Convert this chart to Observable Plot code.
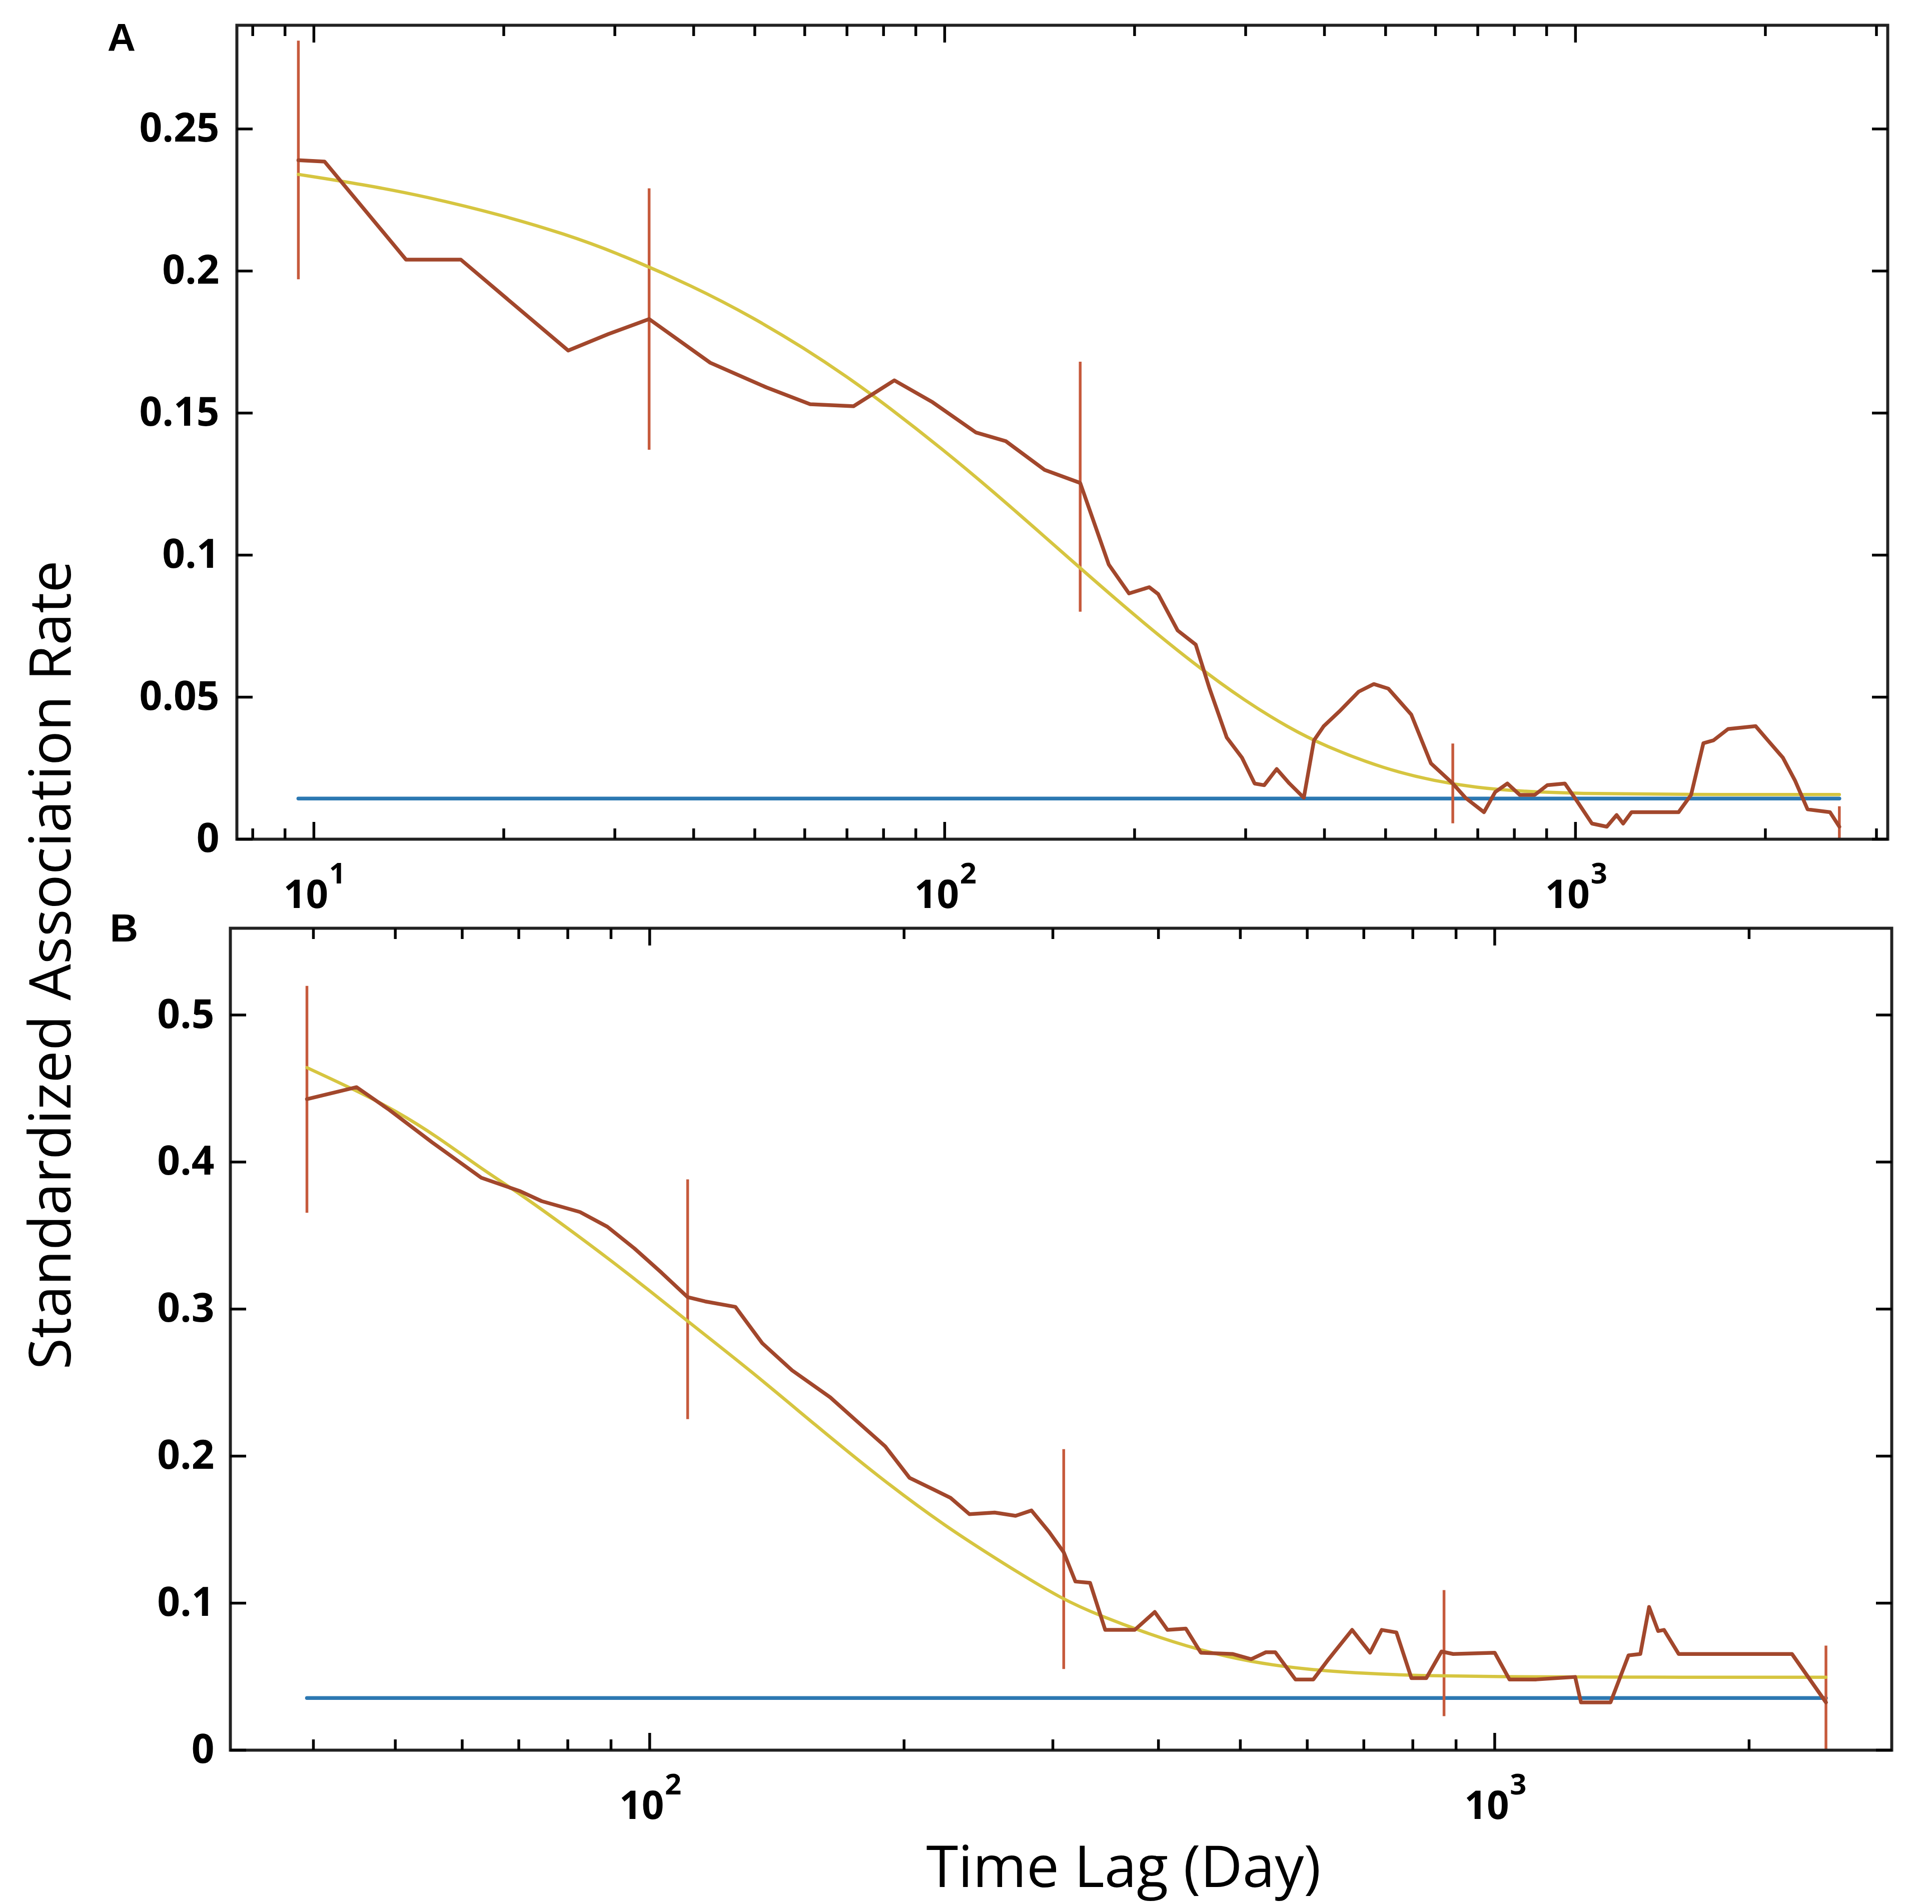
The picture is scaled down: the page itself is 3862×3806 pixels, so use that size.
<!DOCTYPE html>
<html><head><meta charset="utf-8">
<script src="https://cdn.jsdelivr.net/npm/d3@7"></script>
<script src="https://cdn.jsdelivr.net/npm/@observablehq/plot@0.6"></script>
<style>
html,body{margin:0;padding:0;background:#fff;}
#fig{position:relative;width:3862px;height:3806px;background:#fff;overflow:hidden;font-family:"Open Sans",sans-serif;}
#fig svg{position:absolute;left:0;overflow:visible;background:transparent;}
.lbl{position:absolute;white-space:nowrap;color:#000;line-height:1;}
</style></head><body><div id="fig"></div>
<script>
// ---------- Panel A data ----------
const obsA = [
  [9.45,0.239],[10.4,0.2385],[14.0,0.204],[17.1,0.204],[25.3,0.172],[29.3,0.1778],[34.0,0.1831],
  [42.5,0.1677],[52.2,0.159],[61.2,0.1531],[71.7,0.1524],[83.2,0.1615],[95.7,0.1538],[112,0.1432],
  [125,0.1401],[144,0.130],[164,0.1254],[182,0.0967],[196,0.0865],[211,0.0887],[218,0.0863],
  [234,0.0735],[250,0.0685],[263,0.053],[280,0.0358],[296,0.0287],[310,0.0196],[321,0.019],
  [336,0.0247],[352,0.0196],[371,0.0146],[385,0.0348],[399,0.0398],[422,0.0449],[453,0.0519],
  [479,0.0546],[505,0.053],[549,0.0439],[590,0.0267],[611,0.0236],[639,0.0196],[669,0.0146],
  [716,0.0095],[746,0.0166],[780,0.0196],[816,0.0156],[862,0.0156],[902,0.019],[962,0.0196],
  [1005,0.0135],[1062,0.0055],[1121,0.0044],[1162,0.0085],[1190,0.0055],[1227,0.0095],[1457,0.0095],
  [1525,0.0156],[1595,0.0338],[1655,0.0348],[1746,0.0388],[1930,0.0398],[2018,0.0348],[2132,0.0287],
  [2229,0.0206],[2333,0.0105],[2532,0.0095],[2620,0.0044]
];
const fitA = [
  [9.45,0.234],[12,0.2304],[15,0.2263],[20,0.2195],[25,0.213],[30,0.2067],[40,0.1946],[50,0.1833],
  [60,0.1727],[70,0.1628],[80,0.1535],[100,0.1367],[120,0.1219],[140,0.1089],[160,0.0975],[200,0.0787],
  [250,0.0612],[300,0.0485],[350,0.0394],[400,0.0328],[500,0.0246],[600,0.0204],[700,0.0181],
  [800,0.017],[1000,0.016],[1500,0.0157],[2620,0.0157]
];
const errA = [[9.45,0.197,0.281],[34,0.137,0.229],[164,0.080,0.168],[639,0.0055,0.0336],[2620,0,0.0115]];
const nullA = [[9.45,0.0143],[2620,0.0143]];
const xDomainA = [7.55, 3126];
const yDomainA = [0, 0.2865];
const yTicksA = [0, 0.05, 0.1, 0.15, 0.2, 0.25];
const xMajorA = [10, 100, 1000];
const xExpA = ["1", "2", "3"];
const xMinorA = [8, 9, 20, 30, 40, 50, 60, 70, 80, 90, 200, 300, 400, 500, 600, 700, 800, 900, 2000, 3000];

// ---------- Panel B data ----------
const obsB = [
  [39.3,0.4428],[45.0,0.4509],[49.2,0.4354],[55.3,0.4133],[63.2,0.3893],[70.3,0.3801],[74.5,0.3734],
  [82.7,0.366],[89.1,0.356],[95.9,0.3413],[103.3,0.3247],[110.9,0.3081],[116.3,0.3052],[126.3,0.3015],
  [135.9,0.2768],[147.4,0.2583],[163.6,0.2399],[176.3,0.2232],[190,0.2066],[203,0.1852],[217,0.1771],
  [227,0.1716],[239,0.1605],[256,0.1616],[271,0.1594],[283,0.1630],[297,0.1484],[309,0.1346],
  [319,0.1147],[332,0.1138],[346,0.0818],[375,0.0818],[396,0.094],[410,0.0818],[431,0.0827],
  [449,0.0663],[490,0.0654],[515,0.0619],[536,0.0666],[550,0.0666],[581,0.0481],[610,0.0481],
  [636,0.0619],[678,0.0818],[712,0.0663],[735,0.0818],[765,0.0801],[797,0.049],[830,0.049],
  [865,0.0671],[893,0.0654],[1000,0.0663],[1041,0.0481],[1120,0.0481],[1245,0.0498],[1265,0.0325],
  [1371,0.0325],[1440,0.0645],[1487,0.0654],[1523,0.0974],[1561,0.081],[1586,0.0818],[1651,0.0654],
  [2248,0.0654],[2466,0.0325]
];
const fitB = [
  [39.3,0.4642],[45,0.4485],[50,0.435],[56,0.4175],[63,0.396],[70,0.379],[80,0.355],[90,0.333],
  [100,0.3125],[111,0.2915],[132,0.2576],[157,0.2212],[186,0.1865],[222,0.1535],[264,0.1259],
  [308,0.1024],[342,0.0912],[390,0.0789],[445,0.0684],[514,0.0599],[600,0.0548],[700,0.0522],
  [810,0.0507],[1000,0.0499],[1400,0.0496],[2466,0.0496]
];
const errB = [[39.3,0.3653,0.5196],[110.9,0.225,0.388],[309,0.055,0.2046],[871,0.023,0.1087],[2466,0,0.0709]];
const nullB = [[39.3,0.0355],[2466,0.0355]];
const xDomainB = [31.9, 2950];
const yDomainB = [0, 0.559];
const yTicksB = [0, 0.1, 0.2, 0.3, 0.4, 0.5];
const xMajorB = [100, 1000];
const xExpB = ["2", "3"];
const xMinorB = [40, 50, 60, 70, 80, 90, 200, 300, 400, 500, 600, 700, 800, 900, 2000];

// ---------- colours ----------
const cObs = "#a2472c", cErr = "#c65a3c", cFit = "#d6c540", cNull = "#2c78b2";

const toXY = a => a.map(([x, y]) => ({x, y}));
const toErr = a => a.map(([x, lo, hi]) => ({x, lo, hi}));

function panel(o) {
  const common = {label: null};
  const svg = Plot.plot({
    width: 3862, height: o.height,
    marginTop: o.mt, marginBottom: o.height - o.bottom, marginLeft: o.left, marginRight: 3862 - o.right,
    x: {type: "log", domain: o.xDomain, axis: null},
    y: {domain: o.yDomain, axis: null},
    style: {fontFamily: "Open Sans", background: "transparent", overflow: "visible", color: "#000"},
    marks: [
      Plot.line(toXY(o.nul), {x: "x", y: "y", stroke: cNull, strokeWidth: 7.5}),
      Plot.ruleX(toErr(o.err), {x: "x", y1: "lo", y2: "hi", stroke: cErr, strokeWidth: 5.5}),
      Plot.line(toXY(o.fit), {x: "x", y: "y", stroke: cFit, strokeWidth: 6.5, curve: "basis"}),
      Plot.line(toXY(o.obs), {x: "x", y: "y", stroke: cObs, strokeWidth: 7.5, strokeLinejoin: "round"}),
      Plot.frame({stroke: "#222", strokeWidth: 6}),
      Plot.axisX({...common, ticks: o.xMajor, anchor: "bottom", tickSize: -34, strokeWidth: 5.5, fill: "none"}),
      Plot.axisX({...common, ticks: o.xMinor, anchor: "bottom", tickSize: -21, strokeWidth: 5.5, fill: "none"}),
      Plot.axisX({...common, ticks: o.xMajor, anchor: "top", tickSize: -34, strokeWidth: 5.5, fill: "none"}),
      Plot.axisX({...common, ticks: o.xMinor, anchor: "top", tickSize: -21, strokeWidth: 5.5, fill: "none"}),
      Plot.text(o.xMajor, {x: d => d, frameAnchor: "bottom", dy: 113, dx: -16, text: () => "10",
        fontSize: 78, fontWeight: "bold", lineAnchor: "middle", fill: "#000"}),
      Plot.text(o.xMajor, {x: d => d, frameAnchor: "bottom", dy: 70, dx: 47, text: (d, i) => o.xExp[i],
        fontSize: 58, fontWeight: "bold", lineAnchor: "middle", fill: "#000"}),
      Plot.axisY({...common, ticks: o.yTicks, anchor: "left", tickSize: -32, strokeWidth: 5.5, fill: "none"}),
      Plot.axisY({...common, ticks: o.yTicks, anchor: "right", tickSize: -32, strokeWidth: 5.5, fill: "none"}),
      Plot.axisY({...common, ticks: o.yTicks, anchor: "left", tickSize: 0, tickPadding: o.yPad,
        tickFormat: d => String(d), fontSize: 80, fontWeight: "bold", fill: "#000"})
    ]
  });
  svg.style.top = o.top + "px";
  return svg;
}

const fig = document.getElementById("fig");
fig.appendChild(panel({
  top: 0, height: 1860, mt: 50, bottom: 1677, left: 473, right: 3773,
  xDomain: xDomainA, yDomain: yDomainA, yTicks: yTicksA, xMajor: xMajorA, xExp: xExpA, xMinor: xMinorA,
  obs: obsA, fit: fitA, err: errA, nul: nullA, yPad: 35
}));
fig.appendChild(panel({
  top: 1760, height: 1920, mt: 95, bottom: 1738, left: 460, right: 3781,
  xDomain: xDomainB, yDomain: yDomainB, yTicks: yTicksB, xMajor: xMajorB, xExp: xExpB, xMinor: xMinorB,
  obs: obsB, fit: fitB, err: errB, nul: nullB, yPad: 32
}));

function addLabel(text, x, y, css, rotate) {
  const d = document.createElement("div");
  d.className = "lbl";
  d.textContent = text;
  d.style.left = x + "px";
  d.style.top = y + "px";
  d.style.transform = "translate(-50%,-50%)" + (rotate ? " rotate(-90deg)" : "");
  Object.assign(d.style, css);
  fig.appendChild(d);
}
const panelFont = {fontFamily: '"Liberation Sans", Arial, sans-serif', fontWeight: "bold", fontSize: "78px"};
addLabel("A", 243, 75, panelFont);
addLabel("B", 248, 1855, panelFont);
addLabel("Standardized Association Rate", 96, 1929, {fontFamily: '"Open Sans", sans-serif', fontSize: "115px"}, true);
addLabel("Time Lag (Day)", 2246, 3727, {fontFamily: '"Open Sans", sans-serif', fontSize: "116px"});
</script>
</body></html>
